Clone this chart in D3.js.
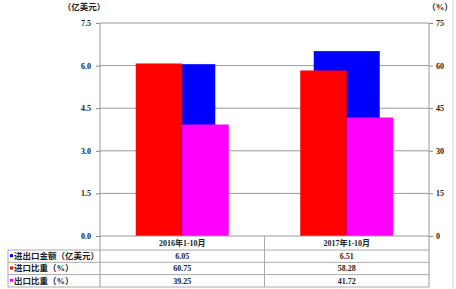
<!DOCTYPE html>
<html>
<head>
<meta charset="utf-8">
<script src="https://cdn.jsdelivr.net/npm/d3@7"></script>
<style>
  html, body { margin: 0; padding: 0; background: #fff; }
  svg { display: block; }
  text { font-family: "Liberation Serif", "Noto Sans CJK SC", serif; font-weight: bold; fill: #222; }
</style>
</head>
<body>
<svg id="chart" width="456" height="289"></svg>
<script>
const categories = ["2016年1-10月", "2017年1-10月"];
const totalTrade = [6.05, 6.51];      // 进出口金额（亿美元）
const importShare = [60.75, 58.28];   // 进口比重（%）
const exportShare = [39.25, 41.72];   // 出口比重（%）
const leftTicks = [0, 1.5, 3.0, 4.5, 6.0, 7.5];
const rightTicks = [0, 15, 30, 45, 60, 75];
const rowLabels = ["进出口金额（亿美元）", "进口比重（%）", "出口比重（%）"];
const rowColors = ["#0000ff", "#ff0000", "#ff00ff"];

const svg = d3.select("#chart");
const plotLeft = 100, plotRight = 429, plotTop = 23, plotBottom = 236;
const tableLeft = 8;
const rowY = [236, 250, 262.3, 274.6, 287];

const x = d3.scaleBand().domain(categories).range([plotLeft, plotRight]).padding(0);
const yL = d3.scaleLinear().domain([0, 7.5]).range([plotBottom, plotTop]);
const yR = d3.scaleLinear().domain([0, 75]).range([plotBottom, plotTop]);
const bw = x.bandwidth();
const x1 = d3.scaleBand().domain(["imp", "exp"]).range([bw / 2 - 46.5, bw / 2 + 46.5]);
const blueW = 66;

// outer frame
svg.append("line").attr("x1", 453).attr("x2", 453).attr("y1", 0).attr("y2", 289)
  .attr("stroke", "#d4d4d4");

// gridlines
svg.append("g").selectAll("line")
  .data(leftTicks.filter(d => d > 0))
  .join("line")
  .attr("x1", plotLeft).attr("x2", plotRight)
  .attr("y1", d => yL(d)).attr("y2", d => yL(d))
  .attr("stroke", "#9a9a9a").attr("stroke-width", 1);

// blue bars (left axis)
svg.append("g").selectAll("rect")
  .data(categories)
  .join("rect")
  .attr("x", d => x(d) + bw / 2 - blueW / 2)
  .attr("width", blueW)
  .attr("y", (d, i) => yL(totalTrade[i]))
  .attr("height", (d, i) => plotBottom - yL(totalTrade[i]))
  .attr("fill", rowColors[0]);

// red / magenta bars (right axis)
const pairs = categories.flatMap((c, i) => [
  { c, k: "imp", v: importShare[i], color: rowColors[1] },
  { c, k: "exp", v: exportShare[i], color: rowColors[2] }
]);
svg.append("g").selectAll("rect")
  .data(pairs)
  .join("rect")
  .attr("x", d => x(d.c) + x1(d.k))
  .attr("width", x1.bandwidth())
  .attr("y", d => yR(d.v))
  .attr("height", d => plotBottom - yR(d.v))
  .attr("fill", d => d.color);

// left axis
const axL = svg.append("g").attr("transform", `translate(${plotLeft},0)`)
  .call(d3.axisLeft(yL).tickValues(leftTicks).tickFormat(d => d.toFixed(1)).tickSize(4).tickSizeOuter(0).tickPadding(5));
axL.select(".domain").remove();
axL.selectAll("line").attr("stroke", "#888");
axL.selectAll("text").style("font-size", "8px").attr("fill", "#333");
svg.append("line").attr("x1", plotLeft).attr("x2", plotLeft).attr("y1", plotTop).attr("y2", rowY[4])
  .attr("stroke", "#999");

// right axis
const axR = svg.append("g").attr("transform", `translate(${plotRight},0)`)
  .call(d3.axisRight(yR).tickValues(rightTicks).tickSize(4).tickSizeOuter(0).tickPadding(3));
axR.select(".domain").remove();
axR.selectAll("line").attr("stroke", "#888");
axR.selectAll("text").style("font-size", "8px").attr("fill", "#333");
svg.append("line").attr("x1", plotRight).attr("x2", plotRight).attr("y1", plotTop).attr("y2", rowY[4])
  .attr("stroke", "#999");

// axis unit labels
svg.append("text").attr("x", 84).attr("y", 10).attr("text-anchor", "middle")
  .style("font-size", "8.5px").text("（亿美元）");
svg.append("text").attr("x", 440).attr("y", 10).attr("text-anchor", "middle")
  .style("font-size", "8.5px").text("（%）");

// data table
const tbl = svg.append("g");
tbl.append("line").attr("x1", plotLeft).attr("x2", plotRight).attr("y1", plotBottom).attr("y2", plotBottom)
  .attr("stroke", "#999");
tbl.selectAll("line.row")
  .data(rowY.slice(1))
  .join("line").attr("class", "row")
  .attr("x1", tableLeft).attr("x2", plotRight)
  .attr("y1", d => d).attr("y2", d => d)
  .attr("stroke", "#aaa");
tbl.append("line").attr("x1", tableLeft).attr("x2", tableLeft).attr("y1", rowY[1]).attr("y2", rowY[4])
  .attr("stroke", "#aaa");
tbl.append("line").attr("x1", x(categories[1])).attr("x2", x(categories[1]))
  .attr("y1", rowY[0]).attr("y2", rowY[4]).attr("stroke", "#aaa");

tbl.selectAll("text.cat")
  .data(categories)
  .join("text").attr("class", "cat")
  .attr("x", d => x(d) + bw / 2)
  .attr("y", (rowY[0] + rowY[1]) / 2 + 3)
  .attr("text-anchor", "middle")
  .style("font-size", "8px")
  .text(d => d);

const rowsData = [totalTrade, importShare, exportShare];
rowsData.forEach((vals, r) => {
  const cy = (rowY[r + 1] + rowY[r + 2]) / 2;
  tbl.append("rect").attr("x", 10).attr("y", cy - 2).attr("width", 3).attr("height", 3)
    .attr("fill", rowColors[r]);
  tbl.append("text").attr("x", 14).attr("y", cy + 3)
    .style("font-size", "8.5px").text(rowLabels[r]);
  tbl.selectAll(null)
    .data(vals)
    .join("text")
    .attr("x", (d, i) => x(categories[i]) + bw / 2)
    .attr("y", cy + 3)
    .attr("text-anchor", "middle")
    .style("font-size", "8px")
    .text(d => d.toFixed(2));
});
</script>
</body>
</html>
